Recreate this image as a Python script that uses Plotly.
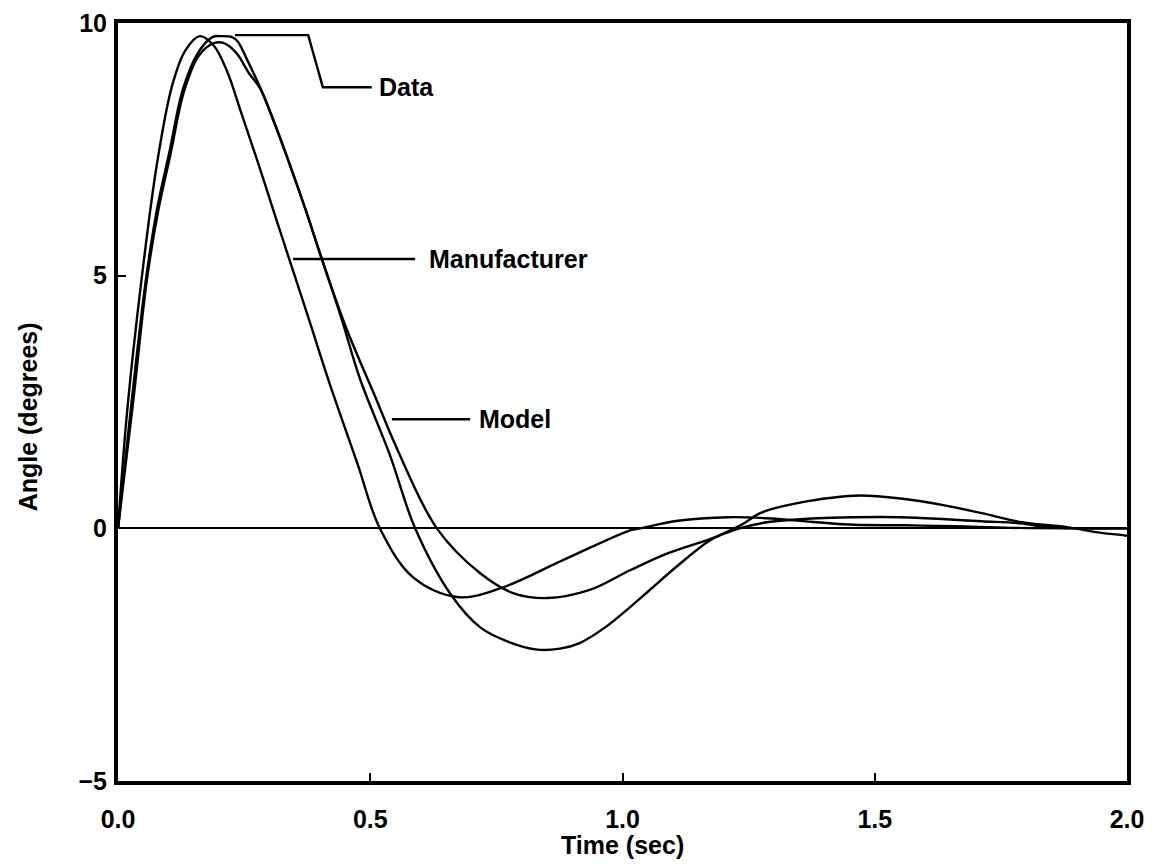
import plotly.graph_objects as go

# ---- data ----
manu_t = [0, 0.018, 0.047, 0.077, 0.107, 0.133, 0.162, 0.19, 0.216, 0.245, 0.277, 0.311, 0.337, 0.378,
          0.42, 0.474, 0.519, 0.585, 0.672, 0.757, 0.882, 1.015, 1.035, 1.11, 1.21, 1.285, 1.385,
          1.46, 1.56, 1.66, 1.77, 1.9, 2.0]
manu_v = [0, 2.3, 4.95, 7.2, 8.75, 9.45, 9.74, 9.55, 9.05, 8.2, 7.25, 6.2, 5.4, 4.15,
          2.85, 1.3, 0, -0.97, -1.36, -1.19, -0.63, -0.04, 0.0, 0.15, 0.22, 0.2, 0.12,
          0.07, 0.06, 0.04, 0.01, 0.0, 0.0]

data_t = [0, 0.028, 0.055, 0.078, 0.102, 0.129, 0.158, 0.187, 0.205, 0.226, 0.237, 0.257, 0.282,
          0.307, 0.335, 0.372, 0.404, 0.443, 0.48, 0.539, 0.589, 0.659, 0.718, 0.775, 0.831,
          0.876, 0.915, 0.967, 1.015, 1.054, 1.108, 1.173, 1.232, 1.273, 1.31, 1.352, 1.41,
          1.471, 1.551, 1.641, 1.712, 1.792, 1.883, 1.943, 1.994, 2.0]
data_v = [0, 2.6, 4.9, 6.35, 7.45, 8.7, 9.4, 9.72, 9.74, 9.72, 9.64, 9.25, 8.72,
          8.1, 7.35, 6.3, 5.33, 4.15, 2.95, 1.45, 0, -1.3, -1.96, -2.25, -2.4,
          -2.38, -2.27, -1.95, -1.56, -1.22, -0.75, -0.24, 0.05, 0.3, 0.42, 0.51, 0.6,
          0.65, 0.59, 0.45, 0.3, 0.12, 0.02, -0.08, -0.14, -0.15]

model_t = [0, 0.03, 0.057, 0.08, 0.104, 0.131, 0.16, 0.19, 0.21, 0.235, 0.26, 0.282, 0.307, 0.335,
           0.372, 0.404, 0.453, 0.51, 0.552, 0.632, 0.718, 0.783, 0.851, 0.935, 1.015, 1.088,
           1.16, 1.232, 1.286, 1.386, 1.46, 1.551, 1.641, 1.712, 1.788, 1.843, 1.91, 2.0]
model_v = [0, 2.5, 4.9, 6.3, 7.4, 8.65, 9.35, 9.6, 9.6, 9.4, 9.0, 8.7, 8.1, 7.35,
           6.3, 5.33, 3.95, 2.6, 1.6, 0, -0.89, -1.28, -1.38, -1.22, -0.83, -0.5,
           -0.26, 0, 0.12, 0.2, 0.22, 0.22, 0.18, 0.14, 0.1, 0.02, 0, 0]

x_ticks = [0.0, 0.5, 1.0, 1.5, 2.0]
y_ticks = [-5, 0, 5, 10]

label_names = ["Data", "Manufacturer", "Model"]
label_x = [0.513, 0.612, 0.712]
label_y = [8.73, 5.33, 2.16]
leader_x = [[0.232, 0.377, 0.406, 0.503], [0.347, 0.589], [0.543, 0.698]]
leader_y = [[9.76, 9.76, 8.73, 8.73], [5.33, 5.33], [2.16, 2.16]]

FONT = "Liberation Sans"
TXT = dict(family=FONT, size=25, color="black", weight="bold")

fig = go.Figure()
for t, v, name in [(data_t, data_v, "Data"), (manu_t, manu_v, "Manufacturer"), (model_t, model_v, "Model")]:
    fig.add_trace(go.Scatter(x=t, y=v, mode="lines", name=name, showlegend=False,
                             line=dict(color="black", width=2.4, shape="spline", smoothing=1.0)))

for lx, ly in zip(leader_x, leader_y):
    fig.add_trace(go.Scatter(x=lx, y=ly, mode="lines", showlegend=False, hoverinfo="skip",
                             line=dict(color="black", width=2.4)))

for name, x, y in zip(label_names, label_x, label_y):
    fig.add_annotation(x=x, y=y, xref="x", yref="y", text=name, showarrow=False,
                       xanchor="left", yanchor="middle", font=TXT)

# axis titles
fig.add_annotation(x=0.5, y=-0.084, xref="paper", yref="paper", text="Time (sec)",
                   showarrow=False, xanchor="center", yanchor="middle", font=TXT)
fig.add_annotation(x=-0.089, y=0.48, xref="paper", yref="paper", text="Angle (degrees)",
                   showarrow=False, xanchor="center", yanchor="middle", textangle=-90, font=TXT)

fig.update_layout(
    width=1152, height=867,
    margin=dict(l=118, r=25, t=23, b=86),
    paper_bgcolor="white", plot_bgcolor="white",
    font=dict(family=FONT, color="black"),
)
fig.update_xaxes(range=[0, 2], tickvals=x_ticks, tickformat=".1f", automargin=False,
                 showline=True, linewidth=4, linecolor="black", mirror=True,
                 ticks="inside", ticklen=8, tickwidth=2, tickcolor="black",
                 showgrid=False, zeroline=False, ticklabelstandoff=13,
                 ticklabeloverflow="allow", tickfont=TXT)
fig.update_yaxes(range=[-5, 10], tickvals=y_ticks, automargin=False,
                 showline=True, linewidth=4, linecolor="black", mirror=True,
                 ticks="inside", ticklen=8, tickwidth=2, tickcolor="black",
                 showgrid=False, zeroline=True, zerolinecolor="black", zerolinewidth=2,
                 ticklabelstandoff=2, ticklabeloverflow="allow", tickfont=TXT)

fig.write_html("out.html", config={"displayModeBar": False},
               post_script="document.body.style.margin='0';document.body.style.overflow='hidden';")
